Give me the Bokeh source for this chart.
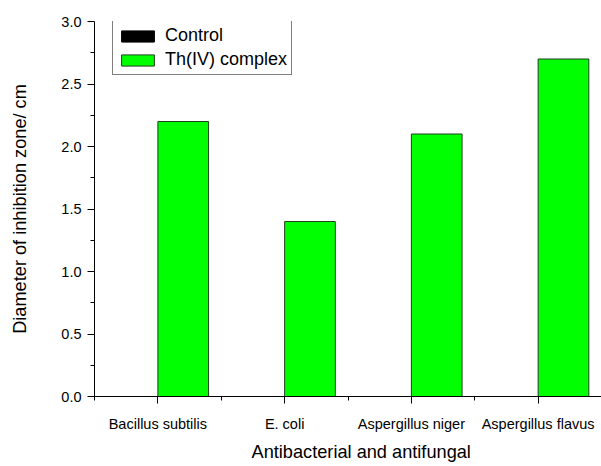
from bokeh.plotting import figure
from bokeh.models import (Range1d, FixedTicker, PrintfTickFormatter, Legend, LegendItem,
                          ColumnDataSource, Title)
from bokeh.transform import dodge
from bokeh.embed import file_html
from bokeh.resources import INLINE

categories = ["Bacillus subtilis", "E. coli", "Aspergillus niger", "Aspergillus flavus"]
control = [0.0, 0.0, 0.0, 0.0]
th_complex = [2.2, 1.4, 2.1, 2.7]
y_ticks = [0.0, 0.5, 1.0, 1.5, 2.0, 2.5, 3.0]
x_title = "Antibacterial and antifungal"
y_title = "Diameter of inhibition zone/ cm"

FONT = "Liberation Sans"

pos = list(range(1, len(categories) + 1))
src = ColumnDataSource(dict(x=pos, control=control, th=th_complex))

p = figure(width=601, height=466, x_range=Range1d(0.5, 4.5), y_range=Range1d(0, 3.0),
           min_border_left=94, min_border_right=0, min_border_top=21, min_border_bottom=70,
           output_backend="svg", toolbar_location=None)

r_ctrl = p.vbar(x=dodge("x", -0.2, range=p.x_range), top="control", width=0.4, source=src,
                fill_color="black", line_color="black", line_width=1)
r_th = p.vbar(x=dodge("x", 0.2, range=p.x_range), top="th", width=0.4, source=src,
              fill_color="#00FF00", line_color="#1f3f1f", line_width=1)

p.xgrid.visible = False
p.ygrid.visible = False
p.outline_line_color = None
p.background_fill_color = "white"
p.border_fill_color = "white"

# x axis
xa = p.xaxis[0]
xa.ticker = FixedTicker(ticks=pos, minor_ticks=[0.5, 1.5, 2.5, 3.5, 4.5])
xa.major_label_overrides = {i: c for i, c in zip(pos, categories)}
xa.major_tick_out = 7
xa.major_tick_in = 0
xa.minor_tick_out = 4
xa.minor_tick_in = 0
xa.major_label_standoff = 12
xa.major_label_text_font = FONT
xa.major_label_text_font_size = "14.5px"
xa.major_label_text_color = "black"
xa.axis_line_color = "black"
xa.major_tick_line_color = "black"
xa.minor_tick_line_color = "black"

# x title (placed as in the original, a little right of the frame centre)
p.add_layout(Title(text=x_title, align="left", offset=157, standoff=10,
                   text_font=FONT, text_font_size="18.2px", text_font_style="normal",
                   text_color="black"), "below")

# y axis
ya = p.yaxis[0]
ya.ticker = FixedTicker(ticks=y_ticks, minor_ticks=[0.25, 0.75, 1.25, 1.75, 2.25, 2.75])
ya.formatter = PrintfTickFormatter(format="%.1f")
ya.major_tick_out = 7
ya.major_tick_in = 0
ya.minor_tick_out = 4
ya.minor_tick_in = 0
ya.major_label_standoff = 6
ya.major_label_text_font = FONT
ya.major_label_text_font_size = "14.5px"
ya.major_label_text_color = "black"
ya.axis_label = y_title
ya.axis_label_text_font = FONT
ya.axis_label_text_font_size = "18.2px"
ya.axis_label_text_font_style = "normal"
ya.axis_label_text_color = "black"
ya.axis_label_standoff = 28
ya.axis_line_color = "black"
ya.major_tick_line_color = "black"
ya.minor_tick_line_color = "black"

legend = Legend(items=[LegendItem(label="Control", renderers=[r_ctrl]),
                       LegendItem(label="Th(IV) complex", renderers=[r_th])],
                location=(18, 321), orientation="vertical")
legend.glyph_width = 41
legend.glyph_height = 14
legend.label_height = 14
legend.label_standoff = 7
legend.padding = 4
legend.spacing = 3
legend.margin = 0
legend.label_text_font = FONT
legend.label_text_font_size = "18px"
legend.label_text_color = "black"
legend.border_line_color = "black"
legend.border_line_width = 1
legend.background_fill_alpha = 1.0
legend.background_fill_color = "white"
p.add_layout(legend, "center")

open("out.html", "w").write(file_html(p, INLINE))
